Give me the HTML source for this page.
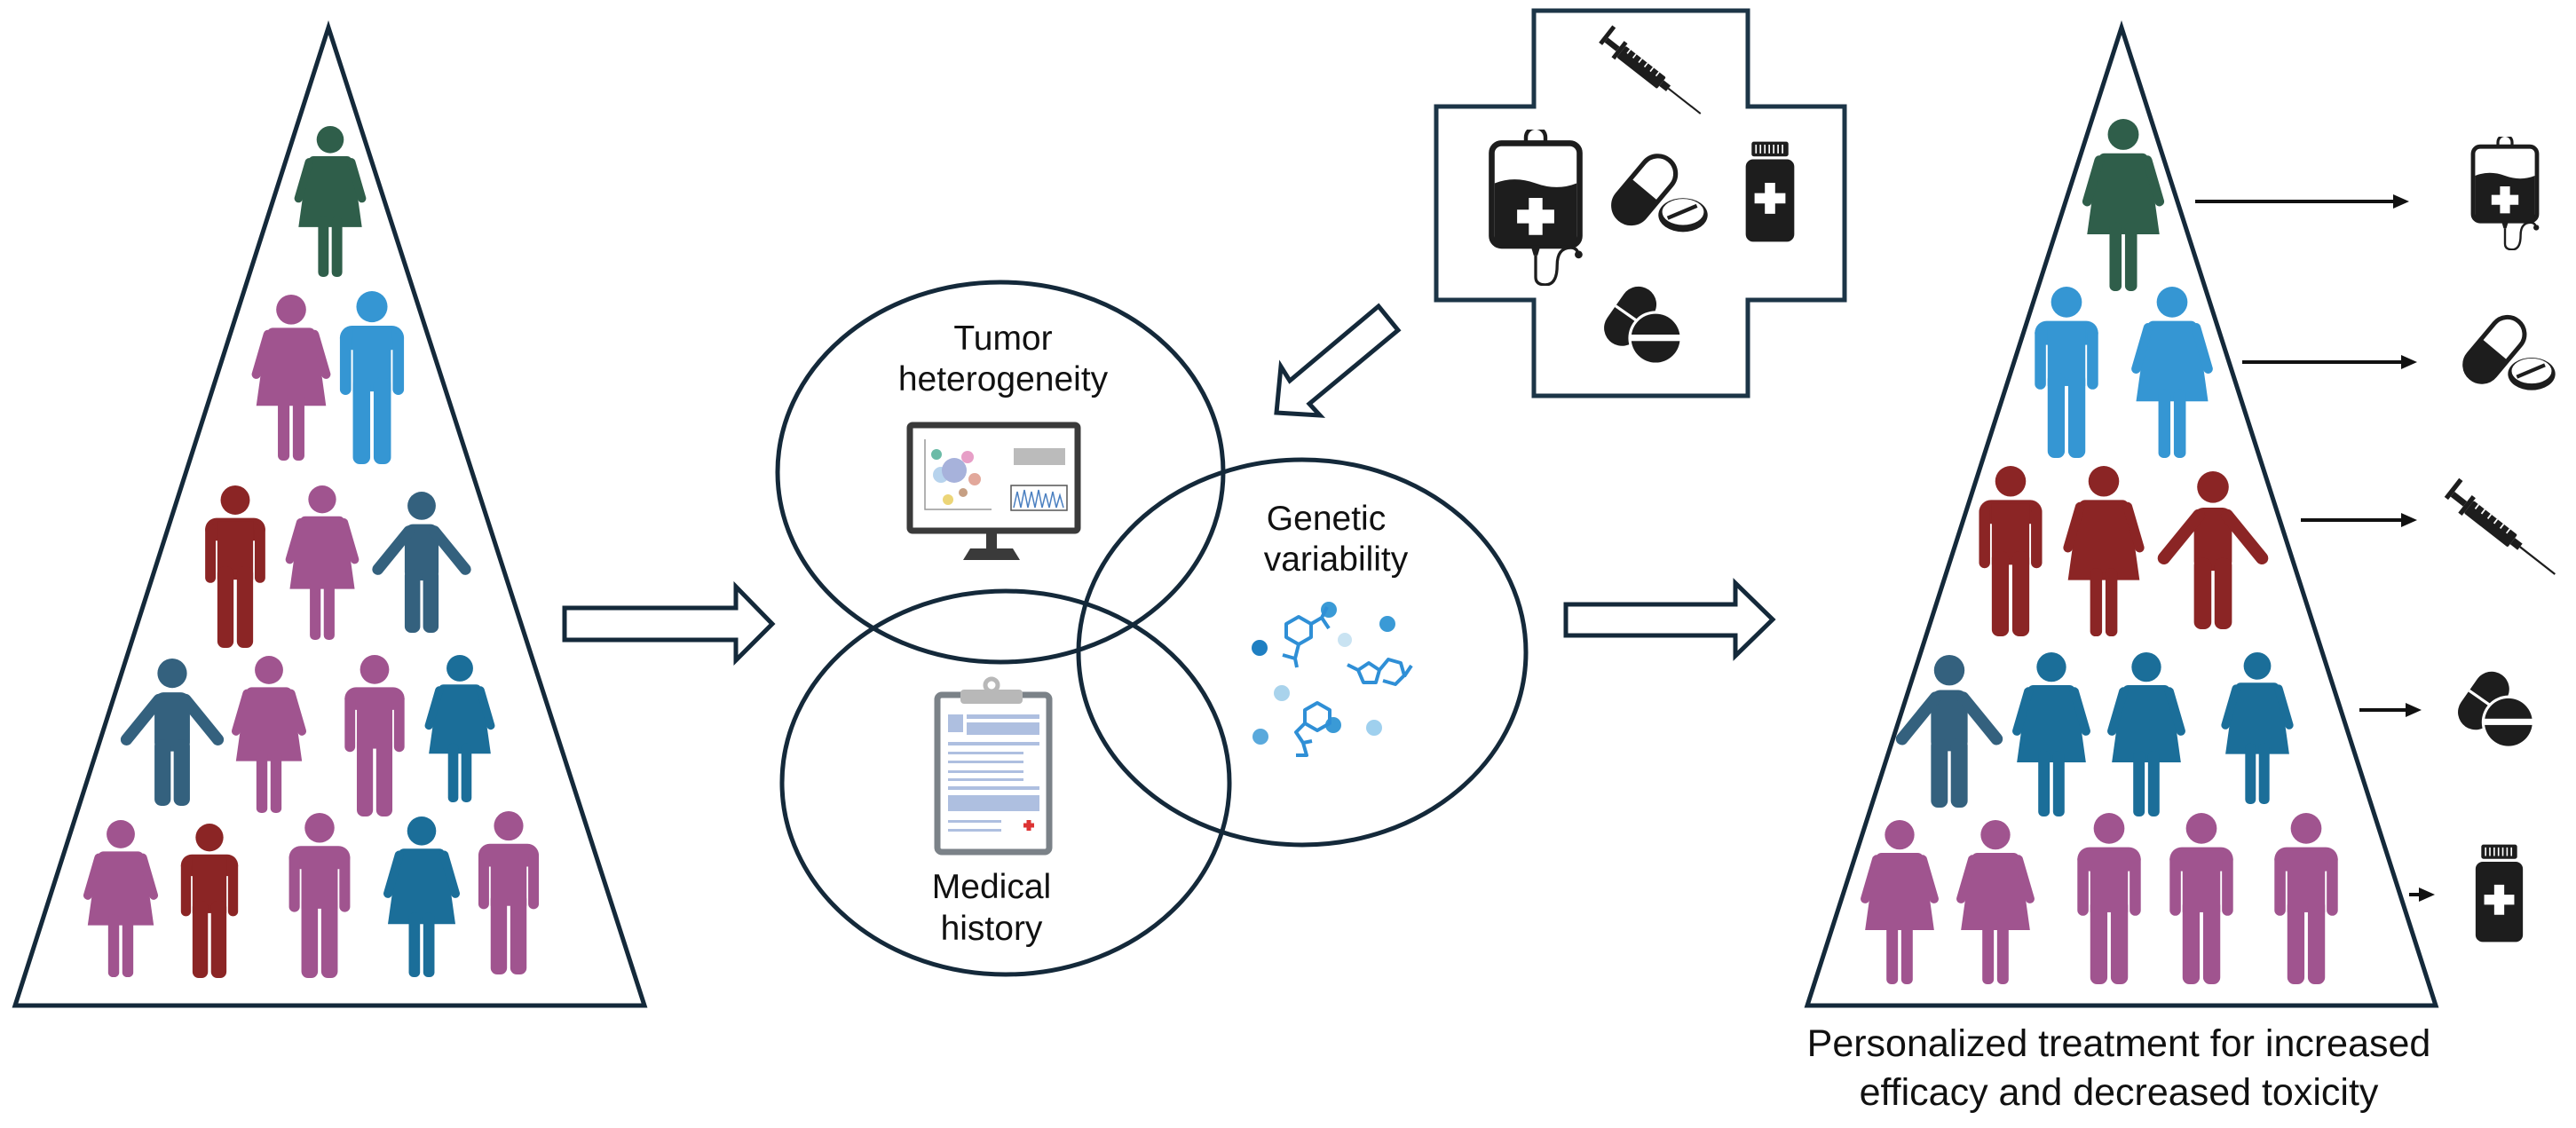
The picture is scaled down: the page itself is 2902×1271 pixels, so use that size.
<!DOCTYPE html>
<html><head><meta charset="utf-8"><style>
html,body{margin:0;padding:0;background:#fff;}
svg{display:block;}
text{font-family:"Liberation Sans",Arial,sans-serif;fill:#111;}
</style></head><body>
<svg width="2902" height="1271" viewBox="0 0 2902 1271" xmlns="http://www.w3.org/2000/svg">
<defs>
 <g id="man">
  <circle cx="0" cy="9" r="9"/>
  <rect x="-18.5" y="20" width="37" height="14" rx="7"/>
  <rect x="-18.5" y="24" width="6.5" height="36" rx="3.2"/>
  <rect x="12" y="24" width="6.5" height="36" rx="3.2"/>
  <rect x="-11" y="22" width="22" height="36"/>
  <rect x="-11" y="50" width="10" height="50" rx="4"/>
  <rect x="1" y="50" width="10" height="50" rx="4"/>
 </g>
 <g id="woman">
  <circle cx="0" cy="9" r="9"/>
  <path d="M-11 20 L11 20 Q14 20 15 24 L21 67 L-21 67 L-15 24 Q-14 20 -11 20Z"/>
  <path d="M-14 24 L-21 48 M14 24 L21 48" stroke-width="5.5" stroke-linecap="round" fill="none" class="arm"/>
  <rect x="-8" y="60" width="7" height="40" rx="3"/>
  <rect x="1" y="60" width="7" height="40" rx="3"/>
 </g>
 <g id="armsman">
  <circle cx="0" cy="10" r="10"/>
  <rect x="-12" y="23" width="24" height="40" rx="6"/>
  <path d="M-9 28 L-31 55 M9 28 L31 55" stroke-width="8" stroke-linecap="round" fill="none" class="arm"/>
  <rect x="-12" y="55" width="11" height="45" rx="4.5"/>
  <rect x="1" y="55" width="11" height="45" rx="4.5"/>
 </g>
 <symbol id="iv" viewBox="0 0 100 160">
  <path d="M40 8 a10 10 0 0 1 20 0 v6 h-20z" fill="none" stroke="#1d1d1d" stroke-width="4"/>
  <rect x="5" y="14" width="90" height="105" rx="10" fill="none" stroke="#1d1d1d" stroke-width="6"/>
  <path d="M8 55 q20 -8 42 0 t42 0 V113 a6 6 0 0 1 -6 6 H14 a6 6 0 0 1 -6 -6z" fill="#1d1d1d"/>
  <path d="M43 70 h14 v12 h12 v14 h-12 v12 h-14 v-12 h-12 v-14 h12z" fill="#fff"/>
  <path d="M45 119 h10 l-3 10 h-4z" fill="#1d1d1d"/>
  <path d="M50 129 v22 q0 8 10 8 q12 0 12 -20 q0 -18 14 -18 q8 0 8 10" fill="none" stroke="#1d1d1d" stroke-width="3"/>
  <circle cx="94" cy="128" r="4" fill="#1d1d1d"/>
 </symbol>
 <symbol id="pills" viewBox="0 0 130 120">
  <g transform="rotate(40 45 55)">
   <rect x="22" y="5" width="46" height="100" rx="23" fill="#fff" stroke="#1d1d1d" stroke-width="6"/>
   <path d="M22 55 h46 v27 a23 23 0 0 1 -46 0z" fill="#1d1d1d"/>
  </g>
  <ellipse cx="95" cy="88" rx="32" ry="22" fill="#1d1d1d"/>
  <ellipse cx="95" cy="84" rx="27" ry="17" fill="#fff"/>
  <path d="M75 92 L113 76" stroke="#1d1d1d" stroke-width="5"/>
 </symbol>
 <symbol id="bottle" viewBox="0 0 70 140">
  <rect x="10" y="2" width="50" height="20" rx="3" fill="#1d1d1d"/>
  <path d="M16 6 v12 M22 6 v12 M28 6 v12 M34 6 v12 M40 6 v12 M46 6 v12 M52 6 v12" stroke="#fff" stroke-width="2"/>
  <rect x="2" y="26" width="66" height="112" rx="10" fill="#1d1d1d"/>
  <path d="M28 58 h14 v14 h14 v14 h-14 v14 h-14 v-14 h-14 v-14 h14z" fill="#fff"/>
 </symbol>
 <symbol id="pills2" viewBox="0 0 110 120">
  <g transform="rotate(35 40 45)"><rect x="12" y="5" width="50" height="90" rx="25" fill="#1d1d1d"/><path d="M12 50 h50" stroke="#fff" stroke-width="4"/></g>
  <circle cx="70" cy="78" r="38" fill="#fff"/>
  <circle cx="70" cy="78" r="34" fill="#1d1d1d"/>
  <rect x="34" y="73" width="72" height="9" fill="#fff"/>
 </symbol>
 <symbol id="syringe" viewBox="0 0 140 140">
  <g transform="rotate(38 70 70)">
   <rect x="-10" y="64" width="6" height="30" fill="#1d1d1d" transform="translate(0 -15)"/>
   <rect x="-4" y="66" width="20" height="8" fill="#1d1d1d"/>
   <rect x="16" y="56" width="6" height="28" fill="#1d1d1d"/>
   <rect x="22" y="60" width="70" height="20" rx="2" fill="#1d1d1d"/>
   <path d="M30 60 v7 M40 60 v7 M50 60 v7 M60 60 v7 M70 60 v7 M80 60 v7" stroke="#fff" stroke-width="2"/>
   <rect x="92" y="65" width="12" height="10" fill="#1d1d1d"/>
   <path d="M104 70 L160 70" stroke="#1d1d1d" stroke-width="2.5"/>
  </g>
 </symbol>
</defs>

<!-- Left triangle -->
<polygon points="370,31 17,1133 726,1133" fill="#fff" stroke="#14293a" stroke-width="5" stroke-linejoin="miter"/>
<!-- Right triangle -->
<polygon points="2390,31 2036,1133 2744,1133" fill="#fff" stroke="#14293a" stroke-width="5"/>

<style>
.g{fill:#2f5e4a;stroke:#2f5e4a}.p{fill:#a0548f;stroke:#a0548f}.b{fill:#3596d3;stroke:#3596d3}
.r{fill:#8b2525;stroke:#8b2525}.n{fill:#34617e;stroke:#34617e}.t{fill:#1b6e99;stroke:#1b6e99}
use{stroke-width:0}
</style>

<!-- Left people: translate(cx,top) scale(h/100) -->
<g class="g"><use href="#woman" transform="translate(372,142) scale(1.70)" style="stroke-width:0"/></g>
<g class="p"><use href="#woman" transform="translate(328,332) scale(1.87)"/></g>
<g class="b"><use href="#man" transform="translate(419,328) scale(1.95)"/></g>
<g class="r"><use href="#man" transform="translate(265,547) scale(1.83)"/></g>
<g class="p"><use href="#woman" transform="translate(363,547) scale(1.74)"/></g>
<g class="n"><use href="#armsman" transform="translate(475,554) scale(1.59)"/></g>
<g class="n"><use href="#armsman" transform="translate(194,742) scale(1.66)"/></g>
<g class="p"><use href="#woman" transform="translate(303,739) scale(1.77)"/></g>
<g class="p"><use href="#man" transform="translate(422,738) scale(1.82)"/></g>
<g class="t"><use href="#woman" transform="translate(518,738) scale(1.66)"/></g>
<g class="p"><use href="#woman" transform="translate(136,924) scale(1.77)"/></g>
<g class="r"><use href="#man" transform="translate(236,928) scale(1.74)"/></g>
<g class="p"><use href="#man" transform="translate(360,916) scale(1.86)"/></g>
<g class="t"><use href="#woman" transform="translate(475,920) scale(1.81)"/></g>
<g class="p"><use href="#man" transform="translate(573,914) scale(1.84)"/></g>

<!-- Right people -->
<g class="g"><use href="#woman" transform="translate(2392,134) scale(1.94)"/></g>
<g class="b"><use href="#man" transform="translate(2328,323) scale(1.93)"/></g>
<g class="b"><use href="#woman" transform="translate(2447,323) scale(1.93)"/></g>
<g class="r"><use href="#man" transform="translate(2265,525) scale(1.92)"/></g>
<g class="r"><use href="#woman" transform="translate(2370,525) scale(1.92)"/></g>
<g class="r"><use href="#armsman" transform="translate(2493,531) scale(1.78)"/></g>
<g class="n"><use href="#armsman" transform="translate(2196,738) scale(1.72)"/></g>
<g class="t"><use href="#woman" transform="translate(2311,735) scale(1.85)"/></g>
<g class="t"><use href="#woman" transform="translate(2418,735) scale(1.85)"/></g>
<g class="t"><use href="#woman" transform="translate(2543,735) scale(1.71)"/></g>
<g class="p"><use href="#woman" transform="translate(2140,924) scale(1.85)"/></g>
<g class="p"><use href="#woman" transform="translate(2248,924) scale(1.85)"/></g>
<g class="p"><use href="#man" transform="translate(2376,916) scale(1.93)"/></g>
<g class="p"><use href="#man" transform="translate(2480,916) scale(1.93)"/></g>
<g class="p"><use href="#man" transform="translate(2598,916) scale(1.93)"/></g>

<!-- Hollow arrows -->
<polygon points="636,685 829,685 829,661 870,703 829,744 829,721 636,721" fill="#fff" stroke="#14293a" stroke-width="5" stroke-linejoin="miter"/>
<polygon points="1764,681 1955,681 1955,657 1997,698 1955,739 1955,716 1764,716" fill="#fff" stroke="#14293a" stroke-width="5"/>
<polygon points="1438,465 1443,413 1453,429 1553,345 1575,372 1475,455 1487,468" fill="#fff" stroke="#14293a" stroke-width="5"/>

<!-- Venn ellipses -->
<g fill="none" stroke="#14293a" stroke-width="5">
 <ellipse cx="1127" cy="532" rx="251" ry="214"/>
 <ellipse cx="1133" cy="882" rx="252" ry="216"/>
 <ellipse cx="1467" cy="735" rx="252" ry="217"/>
</g>
<text x="1130" y="394" font-size="39" text-anchor="middle">Tumor</text>
<text x="1130" y="440" font-size="39" text-anchor="middle">heterogeneity</text>
<text x="1117" y="1012" font-size="39" text-anchor="middle">Medical</text>
<text x="1117" y="1059" font-size="39" text-anchor="middle">history</text>
<text x="1494" y="597" font-size="39" text-anchor="middle">Genetic</text>
<text x="1505" y="643" font-size="39" text-anchor="middle">variability</text>

<!-- Monitor -->
<rect x="1025" y="479" width="189" height="119" rx="3" fill="#fff" stroke="#3a3a3a" stroke-width="7"/>
<rect x="1111" y="598" width="12" height="20" fill="#3a3a3a"/>
<path d="M1085 631 L1093 618 L1141 618 L1149 631Z" fill="#3a3a3a"/>
<path d="M1042 495 V574 H1117" stroke="#999" stroke-width="1.5" fill="none"/>
<g opacity="0.75">
 <circle cx="1060" cy="535" r="9" fill="#9fc5e8"/><circle cx="1075" cy="530" r="14" fill="#8a99d0"/>
 <circle cx="1090" cy="515" r="7" fill="#e07fb5"/><circle cx="1055" cy="512" r="6" fill="#3aa58a"/>
 <circle cx="1098" cy="540" r="7" fill="#d98c7a"/><circle cx="1068" cy="563" r="6" fill="#e6c84a"/>
 <circle cx="1085" cy="555" r="5" fill="#b3805a"/>
</g>
<rect x="1142" y="505" width="58" height="19" fill="#bbb"/>
<rect x="1139" y="547" width="63" height="28" fill="#fff" stroke="#555" stroke-width="1.5"/>
<path d="M1142 572 l4 -18 l4 18 l4 -20 l4 20 l4 -18 l4 18 l4 -20 l4 20 l4 -16 l4 16 l4 -18 l4 18 l4 -14 l4 14" fill="none" stroke="#4a7fc0" stroke-width="1.5"/>

<!-- Clipboard -->
<rect x="1056" y="783" width="126" height="177" rx="5" fill="#fff" stroke="#7b8288" stroke-width="7"/>
<rect x="1082" y="777" width="70" height="16" rx="4" fill="#b8b8b8"/>
<circle cx="1117" cy="772" r="7" fill="none" stroke="#b8b8b8" stroke-width="5"/>
<g fill="#aebfe0">
 <rect x="1068" y="805" width="17" height="20"/><rect x="1089" y="805" width="82" height="5"/><rect x="1089" y="814" width="82" height="14"/>
 <rect x="1068" y="836" width="103" height="4"/><rect x="1068" y="847" width="85" height="3"/><rect x="1068" y="857" width="85" height="3"/>
 <rect x="1068" y="868" width="85" height="3"/><rect x="1068" y="877" width="85" height="3"/><rect x="1068" y="886" width="103" height="4"/>
 <rect x="1068" y="896" width="103" height="18" /><rect x="1068" y="924" width="60" height="3"/><rect x="1068" y="934" width="60" height="3"/>
</g>
<path d="M1153 930 h12 M1159 924 v12" stroke="#d33" stroke-width="5"/>

<!-- Molecules -->
<g fill="#3a9ad6">
 <circle cx="1497" cy="687" r="9"/><circle cx="1563" cy="703" r="9"/><circle cx="1419" cy="730" r="9" fill="#1f7fc2"/>
 <circle cx="1515" cy="721" r="8" fill="#c9e3f2"/><circle cx="1444" cy="781" r="9" fill="#a9d3ec"/>
 <circle cx="1420" cy="830" r="9" fill="#5aa9dc"/><circle cx="1502" cy="817" r="9"/><circle cx="1548" cy="820" r="9" fill="#9fd0ee"/>
</g>
<g fill="none" stroke="#2f8fd6" stroke-width="4" stroke-linejoin="round">
 <path d="M1449 703 l14 -8 l14 8 l0 15 l-14 8 l-14 -8z M1477 703 l12 -7 M1489 696 l6 -12 M1489 696 l8 12 M1463 726 l-4 16 l-14 -4 M1459 742 l2 10"/>
 <path d="M1530 755 l12 -8 l12 8 l-4 14 l-14 0z M1554 755 l10 -12 l14 4 l4 14 l-10 10 l-14 -4 M1582 762 l8 -12 M1530 755 l-12 -6"/>
 <path d="M1470 800 l14 -8 l14 8 l0 15 l-14 8 l-14 -8z M1470 815 l-10 10 l8 12 l10 -2 M1468 837 l4 14 l-12 0"/>
</g>

<!-- Cross box -->
<polygon points="1728,12 1969,12 1969,120 2078,120 2078,338 1969,338 1969,446 1728,446 1728,338 1618,338 1618,120 1728,120" fill="#fff" stroke="#1c3547" stroke-width="5"/>
<use href="#syringe" x="1795" y="25" width="125" height="115"/>
<use href="#iv" x="1675" y="146" width="110" height="176"/>
<use href="#pills" x="1805" y="166" width="130" height="104"/>
<use href="#bottle" x="1961" y="158" width="66" height="116"/>
<use href="#pills2" x="1803" y="318" width="100" height="97"/>

<!-- Right arrows -->
<g stroke="#111" stroke-width="4" fill="#111">
 <line x1="2473" y1="227" x2="2700" y2="227"/><polygon points="2714,227 2696,219 2696,235" stroke="none"/>
 <line x1="2526" y1="408" x2="2709" y2="408"/><polygon points="2723,408 2705,400 2705,416" stroke="none"/>
 <line x1="2592" y1="586" x2="2709" y2="586"/><polygon points="2723,586 2705,578 2705,594" stroke="none"/>
 <line x1="2658" y1="800" x2="2714" y2="800"/><polygon points="2728,800 2710,792 2710,808" stroke="none"/>
 <line x1="2714" y1="1008" x2="2729" y2="1008"/><polygon points="2743,1008 2725,1000 2725,1016" stroke="none"/>
</g>
<use href="#iv" x="2780" y="154" width="84" height="128"/>
<use href="#pills" x="2763" y="348" width="128" height="100"/>
<use href="#syringe" x="2745" y="535" width="140" height="125"/>
<use href="#pills2" x="2763" y="752" width="102" height="95"/>
<use href="#bottle" x="2783" y="950" width="65" height="113"/>

<text x="2387" y="1190" font-size="43" text-anchor="middle">Personalized treatment for increased</text>
<text x="2387" y="1245" font-size="43" text-anchor="middle">efficacy and decreased toxicity</text>
</svg>
</body></html>
